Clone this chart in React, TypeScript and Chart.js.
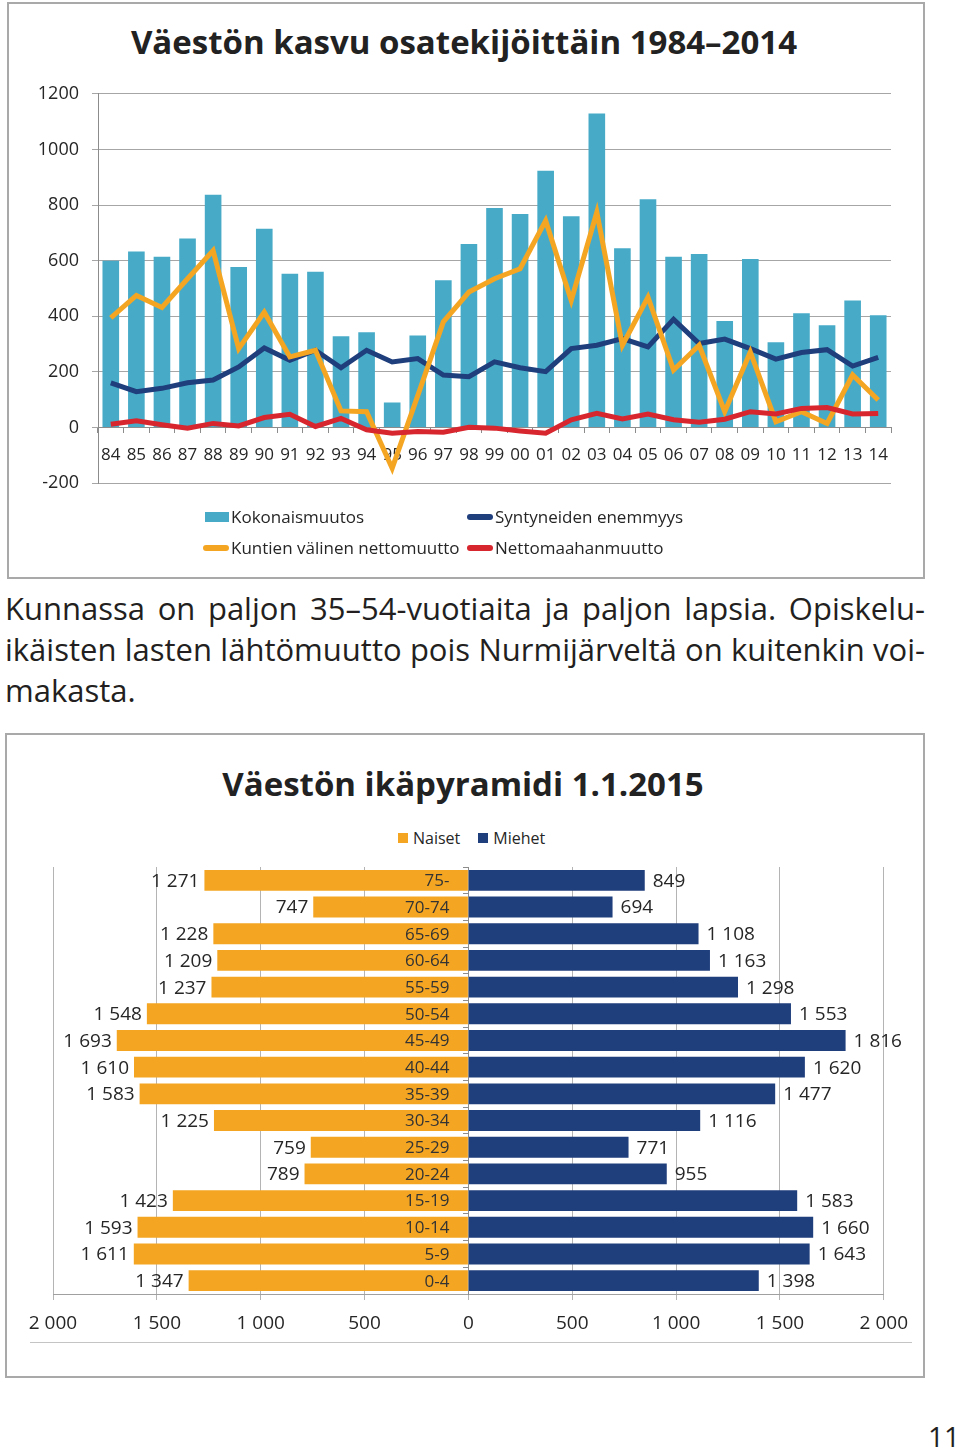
import React, { useEffect, useRef } from "react";
import { Chart, registerables } from "chart.js";

Chart.register(...registerables);

const FONT = "'Open Sans', 'Noto Sans', sans-serif";

// ---------- Chart 1 data ----------
const years = ["84","85","86","87","88","89","90","91","92","93","94","95","96","97","98","99","00","01","02","03","04","05","06","07","08","09","10","11","12","13","14"];
const kokonaismuutos = [600,633,614,680,837,577,715,553,560,328,343,90,331,530,660,789,768,923,760,1129,645,821,614,624,383,606,307,411,368,457,404];
const syntyneidenEnemmyys = [161,129,141,161,171,218,286,242,278,215,278,236,248,189,183,236,215,201,284,296,320,290,389,302,318,284,246,270,280,221,252];
const kuntienValinenNettomuutto = [394,475,432,535,636,284,415,254,278,60,57,-146,115,380,487,535,571,744,457,774,296,469,207,296,57,272,21,57,15,189,99];
const nettomaahanmuutto = [12,24,10,-2,15,6,36,48,4,33,-8,-20,-14,-17,1,-2,-12,-20,28,51,31,49,28,19,30,57,49,69,72,49,51];
const growthTicks = [-200, 0, 200, 400, 600, 800, 1000, 1200];

// ---------- Chart 2 data ----------
const ageGroups = ["75-","70-74","65-69","60-64","55-59","50-54","45-49","40-44","35-39","30-34","25-29","20-24","15-19","10-14","5-9","0-4"];
const naiset = [1271,747,1228,1209,1237,1548,1693,1610,1583,1225,759,789,1423,1593,1611,1347];
const miehet = [849,694,1108,1163,1298,1553,1816,1620,1477,1116,771,955,1583,1660,1643,1398];
const pyramidTicks = [-2000,-1500,-1000,-500,0,500,1000,1500,2000];

const C_BAR = "#47abc8";
const C_NAVY = "#1f3e7c";
const C_ORANGE = "#f4a623";
const C_RED = "#d8262e";
const C_TEXT = "#262626";

const fmtSpace = (n: number) => String(Math.abs(n)).replace(/\B(?=(\d{3})+(?!\d))/g, " ");

function GrowthChart() {
  const ref = useRef<HTMLCanvasElement>(null);
  useEffect(() => {
    const chart = new Chart(ref.current!, {
      type: "bar",
      data: {
        labels: years,
        datasets: [
          { type: "line", label: "Nettomaahanmuutto", data: nettomaahanmuutto, borderColor: C_RED, backgroundColor: C_RED, borderWidth: 5, pointRadius: 0, tension: 0, order: 0 },
          { type: "line", label: "Kuntien välinen nettomuutto", data: kuntienValinenNettomuutto, borderColor: C_ORANGE, backgroundColor: C_ORANGE, borderWidth: 5, pointRadius: 0, tension: 0, order: 1 },
          { type: "line", label: "Syntyneiden enemmyys", data: syntyneidenEnemmyys, borderColor: C_NAVY, backgroundColor: C_NAVY, borderWidth: 5, pointRadius: 0, tension: 0, order: 2 },
          { type: "bar", label: "Kokonaismuutos", data: kokonaismuutos, backgroundColor: C_BAR, categoryPercentage: 1, barPercentage: 0.65, order: 3 },
        ],
      },
      options: {
        animation: false,
        responsive: false,
        maintainAspectRatio: false,
        layout: { padding: { left: 0, top: 20, right: 19, bottom: 12 } },
        plugins: { legend: { display: false }, title: { display: false }, tooltip: { enabled: false } },
        scales: {
          x: {
            position: { y: 0 } as any,
            offset: true,
            grid: { display: true, drawOnChartArea: false, drawTicks: true, tickLength: 5, color: "#8c8c8c", offset: true },
            border: { display: true, color: "#8c8c8c", width: 1 },
            ticks: { font: { size: 17, family: FONT }, color: C_TEXT, padding: 12, maxRotation: 0, autoSkip: false },
          },
          y: {
            min: growthTicks[0],
            max: growthTicks[growthTicks.length - 1],
            afterBuildTicks: (s: any) => { s.ticks = growthTicks.map((v) => ({ value: v })); },
            afterFit: (s: any) => { s.width = 88; },
            grid: { color: "#a6a6a6", tickLength: 6 },
            border: { display: true, color: "#8c8c8c" },
            ticks: { font: { size: 18, family: FONT }, color: C_TEXT, padding: 13, callback: (v: any) => String(v) },
          },
        },
      },
    });
    return () => chart.destroy();
  }, []);
  return <canvas ref={ref} width={900} height={437} style={{ position: "absolute", left: 10, top: 70, width: 900, height: 437 }} />;
}

const pyramidLabels = {
  id: "pyramidLabels",
  afterDatasetsDraw(chart: any) {
    const ctx = chart.ctx;
    const xs = chart.scales.x;
    const zeroX = xs.getPixelForValue(0);
    ctx.save();
    ctx.textBaseline = "middle";
    // value labels
    ctx.font = `19px ${FONT}`;
    ctx.fillStyle = C_TEXT;
    chart.data.datasets.forEach((ds: any, di: number) => {
      const meta = chart.getDatasetMeta(di);
      meta.data.forEach((bar: any, i: number) => {
        const v = ds.data[i];
        if (v < 0) {
          ctx.textAlign = "right";
          ctx.fillText(fmtSpace(v), bar.x - 5, bar.y + 1);
        } else {
          ctx.textAlign = "left";
          ctx.fillText(fmtSpace(v), bar.x + 8, bar.y + 1);
        }
      });
    });
    // age group labels inside the women's bars
    ctx.font = `17px ${FONT}`;
    ctx.fillStyle = "#333333";
    ctx.textAlign = "right";
    const meta0 = chart.getDatasetMeta(0);
    meta0.data.forEach((bar: any, i: number) => {
      ctx.fillText(chart.data.labels[i], zeroX - 19, bar.y + 1);
    });
    ctx.restore();
  },
};

function PyramidChart() {
  const ref = useRef<HTMLCanvasElement>(null);
  useEffect(() => {
    const chart = new Chart(ref.current!, {
      type: "bar",
      data: {
        labels: ageGroups,
        datasets: [
          { label: "Naiset", data: naiset.map((v) => -v), backgroundColor: C_ORANGE, categoryPercentage: 1, barPercentage: 0.78 },
          { label: "Miehet", data: miehet, backgroundColor: C_NAVY, categoryPercentage: 1, barPercentage: 0.78 },
        ],
      },
      options: {
        indexAxis: "y",
        animation: false,
        responsive: false,
        maintainAspectRatio: false,
        layout: { padding: { left: 43, top: 17, right: 34, bottom: 0 } },
        plugins: { legend: { display: false }, title: { display: false }, tooltip: { enabled: false } },
        scales: {
          x: {
            stacked: true,
            min: pyramidTicks[0],
            max: pyramidTicks[pyramidTicks.length - 1],
            afterBuildTicks: (s: any) => { s.ticks = pyramidTicks.map((v) => ({ value: v })); },
            afterFit: (s: any) => { s.height = 46; },
            grid: { color: "#b4b4b4", tickLength: 6 },
            border: { display: true, color: "#a0a0a0" },
            ticks: { font: { size: 19, family: FONT }, color: C_TEXT, padding: 12, maxRotation: 0, callback: (v: any) => fmtSpace(v) },
          },
          y: {
            stacked: true,
            position: { x: 0 } as any,
            grid: { display: true, drawOnChartArea: false, drawTicks: true, tickLength: 5, color: "#8c8c8c", offset: true },
            border: { display: true, color: "#8c8c8c" },
            ticks: { display: false },
          },
        },
      },
      plugins: [pyramidLabels],
    });
    return () => chart.destroy();
  }, []);
  return <canvas ref={ref} width={910} height={490} style={{ position: "absolute", left: 10, top: 850, width: 910, height: 490 }} />;
}

function LineMarker({ color }: { color: string }) {
  return <span style={{ display: "inline-block", width: 26, height: 6, borderRadius: 3, background: color, marginRight: 2, verticalAlign: "middle" }} />;
}

export default function App() {
  const abs = (o: any) => ({ position: "absolute" as const, ...o });
  const legendText = { fontSize: 17, color: C_TEXT, whiteSpace: "nowrap" as const, lineHeight: "20px" };
  return (
    <div style={{ position: "relative", width: 960, height: 1451, fontFamily: FONT, color: "#231f20", background: "#fff", overflow: "hidden" }}>
      <style>{"body{margin:0;background:#fff}"}</style>

      {/* Box 1 */}
      <div style={abs({ left: 7, top: 2, width: 918, height: 577, border: "2px solid #a9a9a9", boxSizing: "border-box" })} />
      <div style={abs({ left: 0, top: 20, width: 928, textAlign: "center", fontSize: 33, fontWeight: 700, lineHeight: "44px", color: "#222", whiteSpace: "nowrap" })}>
        Väestön kasvu osatekijöittäin 1984–2014
      </div>
      <GrowthChart />
      <div style={abs({ left: 205, top: 507, ...legendText, display: "flex", alignItems: "center" })}>
        <span style={{ display: "inline-block", width: 24, height: 10, background: C_BAR, marginRight: 2 }} />Kokonaismuutos
      </div>
      <div style={abs({ left: 467, top: 507, ...legendText, display: "flex", alignItems: "center" })}>
        <LineMarker color={C_NAVY} />Syntyneiden enemmyys
      </div>
      <div style={abs({ left: 203, top: 538, ...legendText, display: "flex", alignItems: "center" })}>
        <LineMarker color={C_ORANGE} />Kuntien välinen nettomuutto
      </div>
      <div style={abs({ left: 467, top: 538, ...legendText, display: "flex", alignItems: "center" })}>
        <LineMarker color={C_RED} />Nettomaahanmuutto
      </div>

      {/* Paragraph */}
      <div style={abs({ left: 5, top: 588, width: 920, fontSize: 31, lineHeight: "41px", color: "#231f20" })}>
        <div style={{ textAlign: "justify", textAlignLast: "justify", whiteSpace: "nowrap" } as any}>Kunnassa on paljon 35–54-vuotiaita ja paljon lapsia. Opiskelu-</div>
        <div style={{ textAlign: "justify", textAlignLast: "justify", whiteSpace: "nowrap" } as any}>ikäisten lasten lähtömuutto pois Nurmijärveltä on kuitenkin voi-</div>
        <div>makasta.</div>
      </div>

      {/* Box 2 */}
      <div style={abs({ left: 5, top: 733, width: 920, height: 645, border: "2px solid #a9a9a9", boxSizing: "border-box" })} />
      <div style={abs({ left: 0, top: 762, width: 926, textAlign: "center", fontSize: 33, fontWeight: 700, lineHeight: "44px", color: "#222", whiteSpace: "nowrap" })}>
        Väestön ikäpyramidi 1.1.2015
      </div>
      <div style={abs({ left: 398, top: 828, fontSize: 16, lineHeight: "20px", color: C_TEXT, display: "flex", alignItems: "center", whiteSpace: "nowrap" })}>
        <span style={{ display: "inline-block", width: 10, height: 10, background: C_ORANGE, marginRight: 5 }} />Naiset
        <span style={{ display: "inline-block", width: 10, height: 10, background: C_NAVY, marginLeft: 18, marginRight: 5 }} />Miehet
      </div>
      <PyramidChart />
      <div style={abs({ left: 30, top: 1342, width: 882, height: 1, background: "#c4c4c4" })} />

      {/* Page number */}
      <div style={abs({ left: 928, top: 1418, fontSize: 28, lineHeight: "36px", color: "#231f20" })}>11</div>
    </div>
  );
}
